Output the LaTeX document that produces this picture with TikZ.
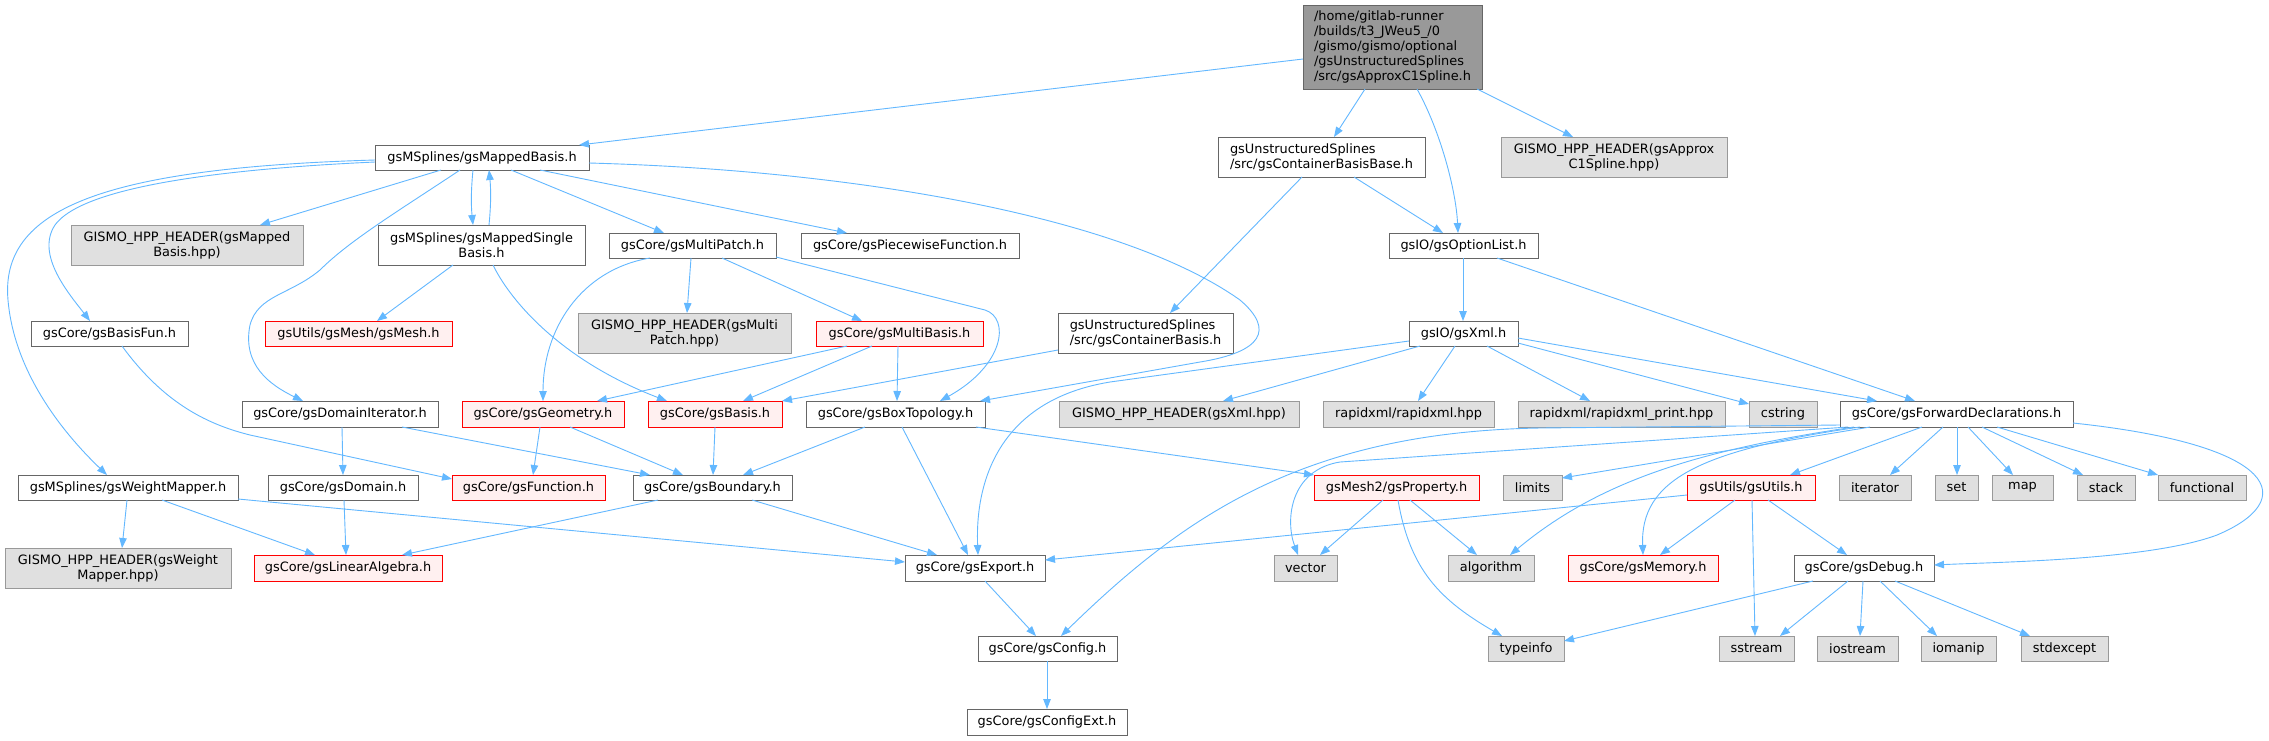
\documentclass[tikz,border=0pt]{standalone}
\usepackage{fontspec}
\setmainfont{DejaVu Sans}
\usetikzlibrary{arrows.meta}
\definecolor{edgec}{HTML}{63B8FF}
\definecolor{bdr}{HTML}{666666}
\definecolor{gbdr}{HTML}{999999}
\definecolor{gfill}{HTML}{E0E0E0}
\definecolor{rfill}{HTML}{FFF0F0}
\definecolor{rbdr}{HTML}{FF0000}
\definecolor{mfill}{HTML}{999999}
\newcommand\gfont{\fontsize{12.9}{15}\selectfont}
\newcommand\mybox[7]{\node[#2, anchor=north west, minimum width={(#5-#3)*1pt}, minimum height={(#6-#4)*1pt}] (#1) at (#3,#4) {#7};}
\tikzset{
  base/.style={inner sep=0pt, outer sep=0pt, line width=0.9pt, font=\gfont, text=black, align=center},
  nb/.style={base, draw=bdr, fill=white},
  gb/.style={base, draw=gbdr, fill=gfill},
  rb/.style={base, draw=rbdr, fill=rfill},
  mainb/.style={base, draw=bdr, fill=mfill, align=left},
  dep/.style={draw=edgec, line width=0.9pt, -{Triangle[length=10pt,width=7.5pt]}},
}
\begin{document}
\begin{tikzpicture}[x=1pt,y=-1pt]
\useasboundingbox (0,0) rectangle (2269,740);
\fill[white] (0,0) rectangle (2269,740);
% nodes
\mybox{main}{mainb}{1303}{5}{1482}{89}{/home/gitlab-runner\\/builds/t3\_JWeu5\_/0\\/gismo/gismo/optional\\/gsUnstructuredSplines\\/src/gsApproxC1Spline.h}
\mybox{mb}{nb}{375}{145}{589}{170}{gsMSplines/gsMappedBasis.h}
\mybox{cbb}{nb,align=left}{1218}{137}{1425}{177}{gsUnstructuredSplines\\/src/gsContainerBasisBase.h}
\mybox{gapx}{gb}{1501}{137}{1727}{177}{GISMO\_HPP\_HEADER(gsApprox\\C1Spline.hpp)}
\mybox{mbh}{gb}{71}{225}{303}{265}{GISMO\_HPP\_HEADER(gsMapped\\Basis.hpp)}
\mybox{msb}{nb}{378}{225}{585}{265}{gsMSplines/gsMappedSingle\\Basis.h}
\mybox{mp}{nb}{609}{233}{776}{258}{gsCore/gsMultiPatch.h}
\mybox{pf}{nb}{801}{233}{1019}{258}{gsCore/gsPiecewiseFunction.h}
\mybox{ol}{nb}{1389}{233}{1538}{258}{gsIO/gsOptionList.h}
\mybox{bf}{nb}{31}{321}{188}{346}{gsCore/gsBasisFun.h}
\mybox{mesh}{rb}{265}{321}{452}{346}{gsUtils/gsMesh/gsMesh.h}
\mybox{mph}{gb}{578}{313}{791}{353}{GISMO\_HPP\_HEADER(gsMulti\\Patch.hpp)}
\mybox{mbs}{rb}{816}{321}{983}{346}{gsCore/gsMultiBasis.h}
\mybox{cb}{nb,align=left}{1058}{313}{1233}{353}{gsUnstructuredSplines\\/src/gsContainerBasis.h}
\mybox{xml}{nb}{1409}{321}{1518}{346}{gsIO/gsXml.h}
\mybox{di}{nb}{242}{401}{438}{427}{gsCore/gsDomainIterator.h}
\mybox{geo}{rb}{462}{401}{624}{427}{gsCore/gsGeometry.h}
\mybox{basis}{rb}{648}{401}{782}{427}{gsCore/gsBasis.h}
\mybox{bt}{nb}{806}{401}{985}{427}{gsCore/gsBoxTopology.h}
\mybox{xmlh}{gb}{1059}{401}{1299}{427}{GISMO\_HPP\_HEADER(gsXml.hpp)}
\mybox{rx}{gb}{1323}{401}{1494}{427}{rapidxml/rapidxml.hpp}
\mybox{rxp}{gb}{1518}{401}{1725}{427}{rapidxml/rapidxml\_print.hpp}
\mybox{cstr}{gb}{1749}{401}{1817}{427}{cstring}
\mybox{fd}{nb}{1840}{401}{2073}{427}{gsCore/gsForwardDeclarations.h}
\mybox{wm}{nb}{18}{475}{238}{500}{gsMSplines/gsWeightMapper.h}
\mybox{dom}{nb}{268}{475}{418}{500}{gsCore/gsDomain.h}
\mybox{fun}{rb}{452}{475}{605}{500}{gsCore/gsFunction.h}
\mybox{bnd}{nb}{633}{475}{792}{500}{gsCore/gsBoundary.h}
\mybox{prop}{rb}{1314}{475}{1479}{500}{gsMesh2/gsProperty.h}
\mybox{lim}{gb}{1503}{475}{1562}{500}{limits}
\mybox{ut}{rb}{1687}{475}{1815}{500}{gsUtils/gsUtils.h}
\mybox{it}{gb}{1839}{475}{1911}{500}{iterator}
\mybox{set}{gb}{1935}{475}{1978}{500}{set}
\mybox{map}{gb}{1992}{475}{2053}{500}{map}
\mybox{stk}{gb}{2077}{475}{2135}{500}{stack}
\mybox{func}{gb}{2158}{475}{2246}{500}{functional}
\mybox{wmh}{gb}{5}{548}{231}{588}{GISMO\_HPP\_HEADER(gsWeight\\Mapper.hpp)}
\mybox{la}{rb}{254}{555}{442}{581}{gsCore/gsLinearAlgebra.h}
\mybox{exp}{nb}{905}{555}{1045}{581}{gsCore/gsExport.h}
\mybox{vec}{gb}{1274}{555}{1337}{581}{vector}
\mybox{alg}{gb}{1448}{555}{1534}{581}{algorithm}
\mybox{mem}{rb}{1568}{555}{1718}{581}{gsCore/gsMemory.h}
\mybox{dbg}{nb}{1794}{555}{1934}{581}{gsCore/gsDebug.h}
\mybox{cfg}{nb}{978}{636}{1117}{661}{gsCore/gsConfig.h}
\mybox{ti}{gb}{1488}{636}{1564}{661}{typeinfo}
\mybox{ss}{gb}{1719}{636}{1794}{661}{sstream}
\mybox{ios}{gb}{1817}{636}{1898}{661}{iostream}
\mybox{iom}{gb}{1921}{636}{1996}{661}{iomanip}
\mybox{sx}{gb}{2021}{636}{2108}{661}{stdexcept}
\mybox{cfe}{nb}{967}{709}{1127}{735}{gsCore/gsConfigExt.h}
% edges
\draw[dep] ([yshift=-54pt]main.north west) -- ([xshift=204pt]mb.north west);
\draw[dep] ([xshift=62pt]main.south west) -- ([xshift=116pt]cbb.north west);
\draw[dep] ([xshift=114pt]main.south west) .. controls (1440,130) and (1456,190) .. ([xshift=69pt]ol.north west);
\draw[dep] ([xshift=174pt]main.south west) -- ([xshift=72pt]gapx.north west);
\draw[dep] ([xshift=66pt]mb.south west) -- ([xshift=189pt]mbh.north west);
\draw[dep] ([xshift=98pt]mb.south west) .. controls (471,190) and (471,205) .. ([xshift=95pt]msb.north west);
\draw[dep] ([xshift=111pt]msb.north west) .. controls (491,205) and (491,190) .. ([xshift=114pt]mb.south west);
\draw[dep] ([xshift=136pt]mb.south west) -- ([xshift=55pt]mp.north west);
\draw[dep] ([xshift=165pt]mb.south west) -- ([xshift=46pt]pf.north west);
\draw[dep] ([yshift=-17pt]mb.north west) .. controls (200,170) and (80,190) .. (55,225) .. controls (35,255) and (70,295) .. ([xshift=59pt]bf.north west);
\draw[dep] ([yshift=-15pt]mb.north west) .. controls (100,168) and (0,210) .. (8,300) .. controls (14,370) and (60,430) .. ([xshift=89pt]wm.north west);
\draw[dep] ([xshift=85pt]mb.south west) .. controls (400,210) and (350,240) .. (320,270) .. controls (290,295) and (258,295) .. (250,325) .. controls (242,365) and (270,385) .. ([xshift=61pt]di.north west);
\draw[dep] ([yshift=-18pt]mb.north east) .. controls (850,170) and (1120,215) .. (1240,300) .. controls (1275,330) and (1262,352) .. (1200,362) -- ([xshift=-5pt]bt.north east);
\draw[dep] ([xshift=75pt]msb.south west) -- ([xshift=112pt]mesh.north west);
\draw[dep] ([xshift=115pt]msb.south west) .. controls (510,300) and (560,360) .. ([xshift=19pt]basis.north west);
\draw[dep] ([xshift=82pt]mp.south west) -- ([xshift=109pt]mph.north west);
\draw[dep] ([xshift=113pt]mp.south west) -- ([xshift=46pt]mbs.north west);
\draw[dep] ([xshift=41pt]mp.south west) .. controls (580,270) and (543,330) .. ([xshift=81pt]geo.north west);
\draw[dep] ([yshift=-24pt]mp.north east) -- (985,310) .. controls (1010,318) and (1005,365) .. ([xshift=134pt]bt.north west);
\draw[dep] ([xshift=31pt]mbs.south west) -- ([xshift=135pt]geo.north west);
\draw[dep] ([xshift=56pt]mbs.south west) -- ([xshift=95pt]basis.north west);
\draw[dep] ([xshift=82pt]mbs.south west) -- ([xshift=91pt]bt.north west);
\draw[dep] ([xshift=136pt]cbb.south west) -- ([xshift=54pt]ol.north west);
\draw[dep] ([xshift=84pt]cbb.south west) -- ([xshift=112pt]cb.north west);
\draw[dep] ([yshift=-37pt]cb.north west) -- (basis.north east);
\draw[dep] ([xshift=74pt]ol.south west) -- ([xshift=54pt]xml.north west);
\draw[dep] ([xshift=108pt]ol.south west) -- ([xshift=75pt]fd.north west);
\draw[dep] ([yshift=-20pt]xml.north west) -- (1110,382) .. controls (1000,400) and (975,480) .. ([xshift=73pt]exp.north west);
\draw[dep] ([xshift=11pt]xml.south west) -- ([xshift=164pt]xmlh.north west);
\draw[dep] ([xshift=46pt]xml.south west) -- ([xshift=95pt]rx.north west);
\draw[dep] ([xshift=78pt]xml.south west) -- ([xshift=72pt]rxp.north west);
\draw[dep] ([yshift=-22pt]xml.north east) -- ([yshift=-3pt]cstr.north west);
\draw[dep] ([yshift=-17pt]xml.north east) -- ([xshift=37pt]fd.north west);
\draw[dep] ([xshift=170pt]bt.south west) -- (prop.north west);
\draw[dep] ([xshift=59pt]bt.south west) -- ([xshift=110pt]bnd.north west);
\draw[dep] ([xshift=96pt]bt.south west) -- ([xshift=63pt]exp.north west);
\draw[dep] ([xshift=78pt]geo.south west) -- ([xshift=81pt]fun.north west);
\draw[dep] ([xshift=108pt]geo.south west) -- ([xshift=50pt]bnd.north west);
\draw[dep] ([xshift=67pt]basis.south west) -- ([xshift=80pt]bnd.north west);
\draw[dep] ([xshift=100pt]di.south west) -- ([xshift=75pt]dom.north west);
\draw[dep] ([xshift=160pt]di.south west) -- ([xshift=17pt]bnd.north west);
\draw[dep] ([xshift=91pt]bf.south west) .. controls (165,405) and (210,425) .. (250,435) -- ([yshift=-4pt]fun.north west);
\draw[dep] ([xshift=76pt]dom.south west) -- ([xshift=92pt]la.north west);
\draw[dep] ([xshift=144pt]wm.south west) -- ([xshift=61pt]la.north west);
\draw[dep] ([xshift=109pt]wm.south west) -- ([xshift=117pt]wmh.north west);
\draw[dep] ([yshift=-24pt]wm.north east) -- ([yshift=-7pt]exp.north west);
\draw[dep] ([xshift=25pt]bnd.south west) -- ([xshift=148pt]la.north west);
\draw[dep] ([xshift=119pt]bnd.south west) -- ([xshift=32pt]exp.north west);
\draw[dep] ([xshift=80pt]exp.south west) -- ([xshift=58pt]cfg.north west);
\draw[dep] ([xshift=69pt]cfg.south west) -- ([xshift=80pt]cfe.north west);
\draw[dep] ([xshift=69pt]prop.south west) -- ([xshift=46pt]vec.north west);
\draw[dep] ([xshift=96pt]prop.south west) -- ([xshift=29pt]alg.north west);
\draw[dep] ([xshift=84pt]prop.south west) .. controls (1410,570) and (1440,600) .. ([xshift=14pt]ti.north west);
\draw[dep] ([xshift=8pt]fd.south west) -- (1340,462) .. controls (1290,470) and (1285,520) .. ([xshift=24pt]vec.north west);
\draw[dep] ([yshift=-24pt]fd.north west) -- (1540,428) .. controls (1300,432) and (1180,520) .. ([xshift=83pt]cfg.north west);
\draw[dep] ([xshift=30pt]fd.south west) -- ([yshift=-3pt]lim.north east);
\draw[dep] ([xshift=14pt]fd.south west) .. controls (1700,450) and (1600,480) .. ([xshift=62pt]alg.north west);
\draw[dep] ([xshift=20pt]fd.south west) .. controls (1700,450) and (1640,480) .. ([xshift=75pt]mem.north west);
\draw[dep] ([xshift=82pt]fd.south west) -- ([xshift=103pt]ut.north west);
\draw[dep] ([xshift=103pt]fd.south west) -- ([xshift=51pt]it.north west);
\draw[dep] ([xshift=117pt]fd.south west) -- ([xshift=22pt]set.north west);
\draw[dep] ([xshift=128pt]fd.south west) -- ([xshift=21pt]map.north west);
\draw[dep] ([xshift=142pt]fd.south west) -- ([xshift=6pt]stk.north west);
\draw[dep] ([xshift=157pt]fd.south west) -- (func.north west);
\draw[dep] ([yshift=-22pt]fd.north east) .. controls (2280,445) and (2300,500) .. (2217,535) .. controls (2150,560) and (2000,562) .. ([yshift=-10pt]dbg.north east);
\draw[dep] ([yshift=-20pt]ut.north west) -- ([yshift=-5pt]exp.north east);
\draw[dep] ([xshift=48pt]ut.south west) -- ([xshift=92pt]mem.north west);
\draw[dep] ([xshift=65pt]ut.south west) -- ([xshift=36pt]ss.north west);
\draw[dep] ([xshift=81pt]ut.south west) -- ([xshift=53pt]dbg.north west);
\draw[dep] ([xshift=19pt]dbg.south west) -- ([yshift=-5pt]ti.north east);
\draw[dep] ([xshift=54pt]dbg.south west) -- ([xshift=61pt]ss.north west);
\draw[dep] ([xshift=69pt]dbg.south west) -- ([xshift=43pt]ios.north west);
\draw[dep] ([xshift=86pt]dbg.south west) -- ([xshift=16pt]iom.north west);
\draw[dep] ([xshift=101pt]dbg.south west) -- ([xshift=9pt]sx.north west);
\end{tikzpicture}
\end{document}
